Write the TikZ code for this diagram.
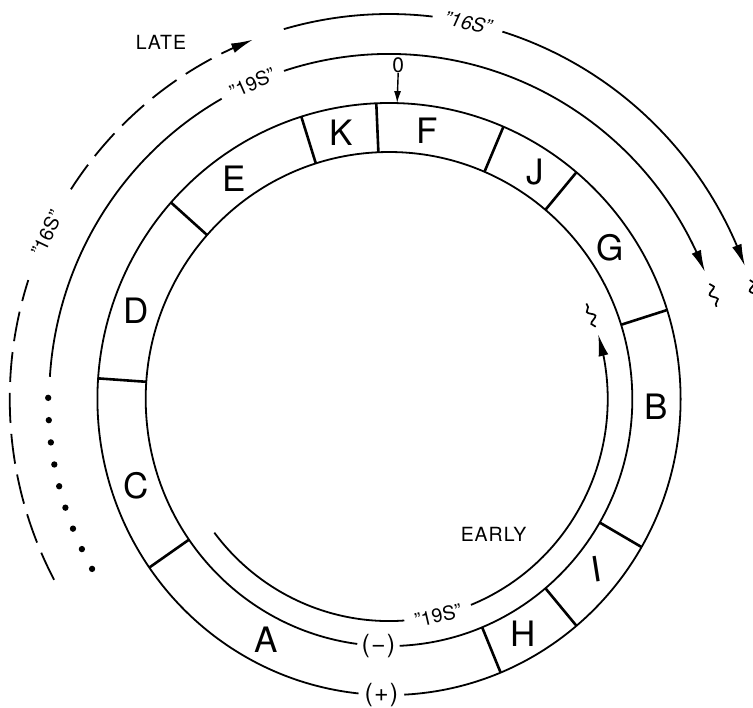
\documentclass[tikz,border=0pt]{standalone}
\usepackage{fontspec}
\setmainfont{TeX Gyre Heros}
\newfontfamily\spaced[LetterSpace=5]{TeX Gyre Heros}
\usepackage{tikz}
\usetikzlibrary{arrows.meta,bending,decorations.pathmorphing}
\tikzset{
  ringline/.style={line width=1.8pt},
  divline/.style={line width=2.6pt},
  seg/.style={font=\fontsize{35}{35}\selectfont,inner sep=0pt},
  tag/.style={font=\fontsize{19.5}{19.5}\selectfont,inner sep=0pt},
  sign/.style={font=\fontsize{25}{25}\selectfont\spaced,inner sep=0pt},
  bigtip/.style={-{Latex[length=22pt,width=10pt]}},
  wiggle/.style={line width=1.7pt,decorate,decoration={snake,amplitude=3.4pt,segment length=13pt}},
  gaps/.style={dash pattern=on 30pt off 11pt}
}
\begin{document}
\begin{tikzpicture}[x=0.985pt,y=1pt]
\useasboundingbox (-394.9,-308) rectangle (369.5,399);
% the ring of segments
\draw[ringline] (272.5:247) arc[start angle=272.5,end angle=622.5,radius=247];
\draw[ringline] (273:296) arc[start angle=273,end angle=624,radius=296];
\node[sign] (minus) at (267.5:247) {(−)};
\node[sign] (plus) at (268.5:296) {(+)};
\foreach \a in {92.5,107.5,138.4,176,214.7,292.5,310,330,17.5,50,66.9}
  \draw[divline] (\a:247) -- (\a:296);
\foreach \a/\lab/\rot in {81.7/F/0,100.3/K/0,125.5/E/0,56.8/J/0,34/G/0,161/D/0,198.6/C/0,-1.7/B/0,-39/I/9,-59.8/H/0,242.5/A/0}
  \node[seg,rotate=\rot] (seg\lab) at (\a:271) {\lab};
% zero mark
\node[tag,font=\fontsize{21}{21}\selectfont] (zero) at (88.4:334) {0};
\coordinate (zeroend) at (88.4:296);
\draw[line width=1.4pt,-{Latex[length=12pt,width=7pt]}] (zero.south) -- (zeroend);
% early 19S, inside
\draw[ringline] (217:222) arc[start angle=217,end angle=274,radius=222];
\node[tag,rotate=13] (early19) at (283:222) {''19S''};
\draw[ringline,bigtip] (292:222) arc[start angle=292,end angle=377,radius=222];
\draw[wiggle] (19:222) arc[start angle=19,end angle=25.5,radius=222];
\node[tag] (early) at (106.1,-135.5) {\spaced EARLY};
% late 19S, outside
\draw[ringline] (176.3:345) arc[start angle=176.3,end angle=119.5,radius=345];
\node[tag,rotate=23.7] (late19) at (113.7:345) {''19S''};
\draw[ringline,bigtip] (108:345) arc[start angle=108,end angle=21.6,radius=345];
\draw[wiggle] (19.5:345) arc[start angle=19.5,end angle=15.5,radius=345];
\foreach \k in {0,...,8}
  \fill ({179.8+3.7*\k}:346) circle[radius=3.2];
% 16S
\draw[ringline] (106.1:385) arc[start angle=106.1,end angle=83.4,radius=385];
\node[tag,font=\fontsize{19.5}{19.5}\selectfont\itshape,rotate=-12] (top16) at (78:385) {''16S''};
\draw[ringline,bigtip] (72.6:385) arc[start angle=72.6,end angle=20.2,radius=385];
\draw[wiggle] (18:385) arc[start angle=18,end angle=14,radius=385];
\draw[ringline,gaps] (208:385) arc[start angle=208,end angle=162,radius=385];
\node[tag,rotate=64.5] (left16) at (154.5:385) {''16S''};
\draw[ringline,gaps,bigtip] (147:385) arc[start angle=147,end angle=111,radius=385];
\node[tag] (late) at (-231.5,357) {\spaced LATE};
\end{tikzpicture}
\end{document}
